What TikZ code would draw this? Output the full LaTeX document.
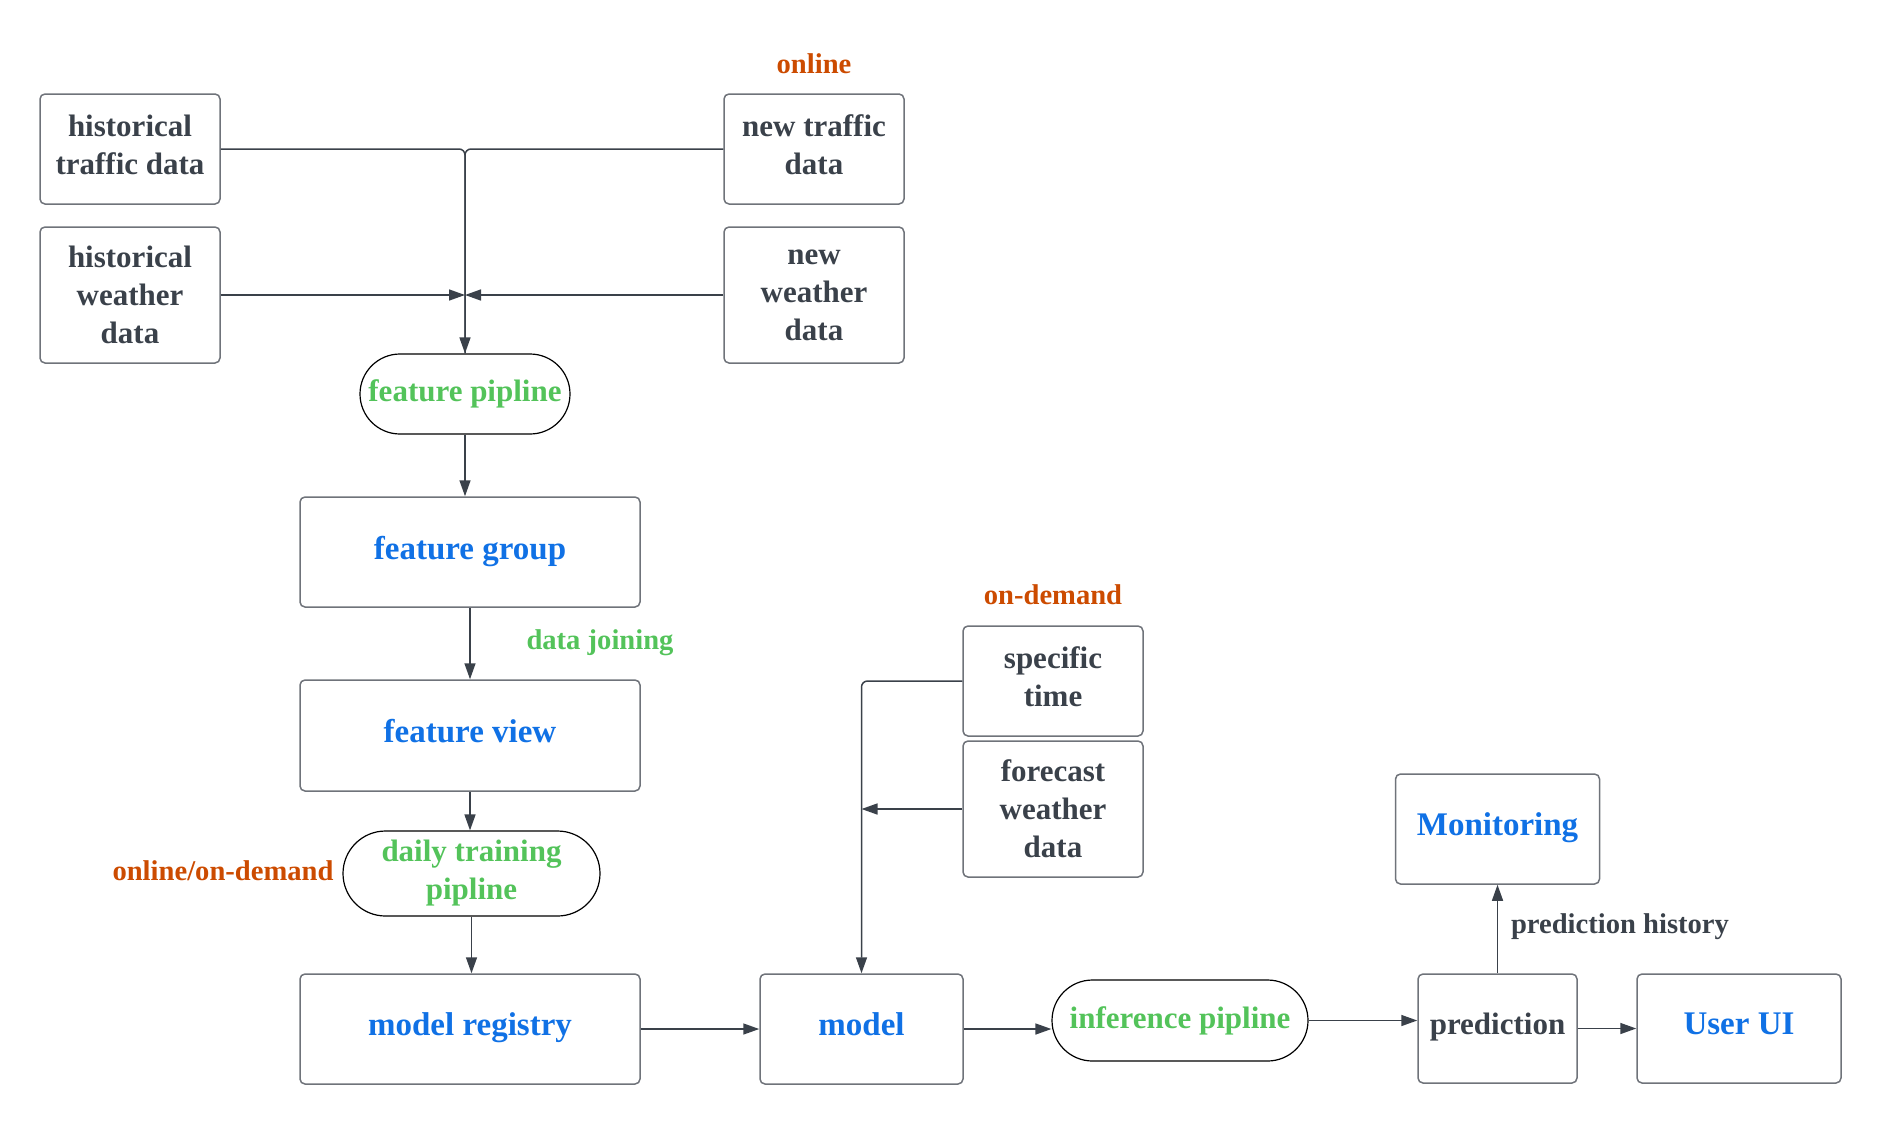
\documentclass[tikz,border=0pt]{standalone}
\usepackage{fontspec}
\setmainfont{Liberation Serif}
\usetikzlibrary{arrows.meta,shapes.misc}
\definecolor{txt}{HTML}{3A414A}
\definecolor{blu}{HTML}{1071E5}
\definecolor{grn}{HTML}{53C35A}
\definecolor{org}{HTML}{CC4B00}
\definecolor{bord}{HTML}{6F737A}
\tikzset{
  boxbase/.style={draw=bord, line width=0.75pt, rounded corners=2.5pt, inner sep=0pt,
    align=center, text=txt, font=\bfseries\fontsize{15.5}{19}\selectfont},
  box/.style={boxbase, execute at end node={\rule[-4.5pt]{0pt}{4.5pt}}},
  tallbox/.style={boxbase},
  bluebox/.style={box, text=blu, font=\bfseries\fontsize{16.5}{20}\selectfont},
  pill/.style={draw=black, line width=0.6pt, rounded rectangle, inner sep=0pt,
    align=center, text=grn, font=\bfseries\fontsize{15.5}{19}\selectfont},
  lbl/.style={inner sep=0pt, font=\bfseries\fontsize{14.3}{17}\selectfont},
  arr/.style={draw=txt, line width=0.75pt, -{Triangle[length=8pt,width=5.5pt]}},
  plain/.style={draw=txt, line width=0.75pt},
}
\begin{document}
\begin{tikzpicture}[x=0.5pt,y=-0.5pt]
\useasboundingbox (0,0) rectangle (1882,1124);
% nodes
\node[box, minimum width=90pt, minimum height=55pt] (HT) at (130,149) {historical\\traffic data};
\node[tallbox, minimum width=90pt, minimum height=68pt] (HW) at (130,295) {historical\\weather\\data};
\node[box, minimum width=90pt, minimum height=55pt] (NT) at (814,149) {new traffic\\data};
\node[tallbox, minimum width=90pt, minimum height=68pt] (NW) at (814,295) {new\\weather\\data};
\node[pill, minimum width=105pt, minimum height=40pt] (FP) at (465,394) {feature pipline};
\node[bluebox, minimum width=170pt, minimum height=55pt] (FG) at (470,552) {feature group};
\node[bluebox, minimum width=170pt, minimum height=55.5pt] (FV) at (470,735.5) {feature view};
\node[pill, minimum width=128.5pt, minimum height=42.5pt] (DT) at (471.5,873.5) {daily training\\pipline};
\node[bluebox, minimum width=170pt, minimum height=55pt] (MR) at (470,1029) {model registry};
\node[bluebox, minimum width=101.5pt, minimum height=55pt] (M) at (861.5,1029) {model};
\node[box, minimum width=90pt, minimum height=55pt] (ST) at (1053,681) {specific\\time};
\node[tallbox, minimum width=90pt, minimum height=68pt] (FW) at (1053,809) {forecast\\weather\\data};
\node[pill, minimum width=128pt, minimum height=40.5pt] (IP) at (1180,1020.5) {inference pipline};
\node[box, minimum width=79.5pt, minimum height=54.5pt] (P) at (1497.5,1028.5) {prediction};
\node[bluebox, minimum width=102pt, minimum height=54.5pt] (UI) at (1739,1028.5) {User UI};
\node[bluebox, minimum width=102pt, minimum height=55pt] (MON) at (1497.5,829) {Monitoring};
% labels
\node[lbl, text=org] (lonline) at (814,64) {online};
\node[lbl, text=org] (londemand) at (1053,595) {on-demand};
\node[lbl, text=grn] (ljoin) at (600,643) {data joining};
\node[lbl, text=org] (lboth) at (223,871) {online/on-demand};
\node[lbl, text=txt] (lhist) at (1620,927) {prediction history};
% connectors
\draw[plain, rounded corners=3pt] (NT.west) -| (FP.north);
\draw[arr, rounded corners=3pt] (HT.east) -| (FP.north);
\coordinate (j1) at (FP.north |- HW.east);
\draw[arr] (HW.east) -- (j1);
\draw[arr] (NW.west) -- (j1);
\draw[arr] (FP.south) -- (FP.south |- FG.north);
\draw[arr] (FG.south) -- (FV.north);
\draw[arr] (FV.south) -- (FV.south |- DT.north);
\draw[arr] (DT.south) -- (DT.south |- MR.north);
\draw[arr] (MR.east) -- (M.west);
\draw[arr, rounded corners=3pt] (ST.west) -| (M.north);
\coordinate (j2) at (M.north |- FW.west);
\draw[arr] (FW.west) -- (j2);
\draw[arr] (M.east) -- (M.east -| IP.west);
\draw[arr] (IP.east) -- (IP.east -| P.west);
\draw[arr] (P.east) -- (P.east -| UI.west);
\draw[arr] (P.north) -- (P.north |- MON.south);
\end{tikzpicture}
\end{document}
